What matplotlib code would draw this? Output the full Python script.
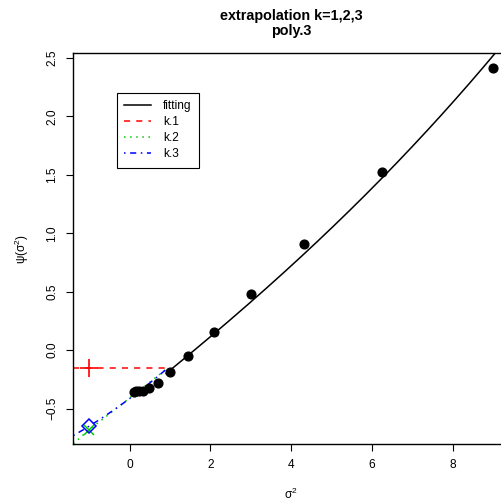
import numpy as np
import matplotlib
matplotlib.use("Agg")
import matplotlib.pyplot as plt
from matplotlib.lines import Line2D

plt.rcParams['font.family'] = ['Liberation Sans', 'DejaVu Sans']
plt.rcParams['mathtext.fontset'] = 'custom'
plt.rcParams['mathtext.rm'] = 'Liberation Sans'
plt.rcParams['mathtext.it'] = 'Liberation Sans:italic'

# observed points
sig2 = [0.11, 0.16, 0.23, 0.34, 0.48, 0.70, 1.0, 1.45, 2.09, 3.0, 4.33, 6.25, 9.0]
psi = [-0.355, -0.352, -0.350, -0.348, -0.328, -0.277, -0.190, -0.050,
       0.155, 0.480, 0.905, 1.525, 2.416]

fit_x = [0.93, 1.45, 2.08, 3.0, 4.43, 5.215, 6.25, 9.03]
fit_y = [-0.19, -0.05, 0.15, 0.405, 0.855, 1.126, 1.467, 2.53]

# extrapolation lines
k1_x = [-1.4, 0.88]
k1_y = [-0.152, -0.152]
k2_x = [-1.4, -1.0, 0.88]
k2_y = [-0.80, -0.679, -0.17]
k3_x = [-1.4, -1.0, -0.23, 0.06, 0.88]
k3_y = [-0.732, -0.647, -0.47, -0.40, -0.17]

# extrapolated values at sigma^2 = -1
ext_x = -1.0
ext_k1 = -0.152
ext_k2 = -0.679
ext_k3 = -0.645

fig = plt.figure(figsize=(5.01, 5.04), dpi=100)
ax = fig.add_axes([73.3/501, 1-444/504, (509-73.3)/501, (444-53.3)/504])

c3 = np.polyfit(fit_x, fit_y, 3)
xx = np.linspace(0.9, 9.5, 200)
ax.plot(xx, np.polyval(c3, xx), color='black', lw=1.1)

c2 = np.polyfit(k3_x, k3_y, 2)
xb = np.linspace(-1.4, 0.88, 100)
ax.plot(k1_x, k1_y, color='red', lw=1.1, dashes=(4, 4))
ax.plot(k2_x, k2_y, color='#00cc00', lw=1.1, dashes=(1, 3))
ax.plot(xb, np.polyval(c2, xb), color='blue', lw=1.1, dashes=(1, 3, 4, 3))

ax.plot(sig2, psi, 'o', color='black', ms=6.3)
ax.plot(ext_x, ext_k1, '+', color='red', ms=13, mew=1.2)
ax.plot(ext_x, ext_k2, 'x', color='#00cc00', ms=7, mew=1.1)
ax.plot(ext_x, ext_k3, 'D', mfc='none', mec='blue', ms=7, mew=1.1)

ax.set_xlim(-1.4, 9.4)
ax.set_ylim(-0.803, 2.540)
ax.set_xticks([0, 2, 4, 6, 8])
ax.set_yticks([-0.5, 0.0, 0.5, 1.0, 1.5, 2.0, 2.5])
ax.set_yticklabels(['\u22120.5', '0.0', '0.5', '1.0', '1.5', '2.0', '2.5'],
                   rotation=90, va='center')
ax.tick_params(direction='out', length=5, width=0.8, labelsize=8.6, pad=6)
for s in ax.spines.values():
    s.set_linewidth(1.0)

ax.set_xlabel(r'$\mathrm{\sigma}^2$', fontsize=8.6, labelpad=11)
ax.set_ylabel(r'$\mathrm{\psi(\sigma^2)}$', fontsize=8.6, labelpad=11)
fig.text(291/501, 1-16/504, 'extrapolation k=1,2,3', ha='center', va='center',
         fontsize=10.4, fontweight='bold')
fig.text(291/501, 1-31/504, 'poly.3', ha='center', va='center',
         fontsize=10.4, fontweight='bold')

handles = [Line2D([], [], color='black', lw=1.1),
           Line2D([], [], color='red', lw=1.1, dashes=(4, 4)),
           Line2D([], [], color='#00cc00', lw=1.1, dashes=(1, 3)),
           Line2D([], [], color='blue', lw=1.1, dashes=(1, 3, 4, 3))]
leg = ax.legend(handles, ['fitting', 'k.1', 'k.2', 'k.3'],
                loc='upper left', bbox_to_anchor=(0.0996, 0.899),
                borderaxespad=0, fancybox=False, edgecolor='black',
                framealpha=1, fontsize=8.6, handlelength=2.3,
                labelspacing=0.35, borderpad=0.6, handletextpad=1.0)
leg.get_frame().set_linewidth(0.8)

fig.savefig('out.png', dpi=100)
